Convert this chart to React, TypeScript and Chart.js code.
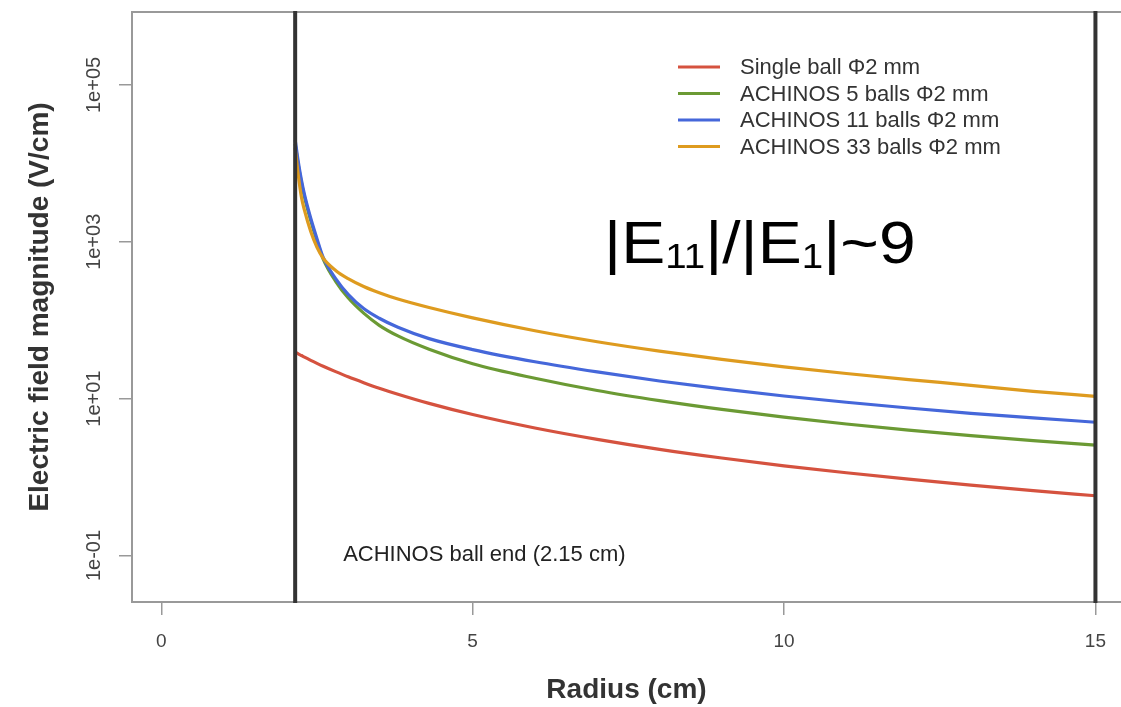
import React, { useEffect, useRef } from "react";
import { Chart, registerables } from "chart.js";

Chart.register(...registerables);

// ---- data ----
const radius = [2.15, 2.2, 2.25, 2.3, 2.4, 2.5, 2.6, 2.8, 3.0, 3.25, 3.5, 3.8, 4.3, 5, 6, 7, 8, 9, 10, 11, 12, 13, 14, 15];
const singleBall = [39.2, 37.2, 35.5, 33.8, 30.8, 28.2, 25.9, 22.1, 19.0, 16.0, 13.6, 11.4, 8.71, 6.28, 4.23, 3.03, 2.26, 1.75, 1.39, 1.135, 0.94, 0.79, 0.67, 0.578];
const achinos5 = [17780, 9550, 5754, 3715, 1862, 1023, 603, 313, 193, 123, 86.1, 63.1, 42.7, 27.9, 18.2, 12.7, 9.44, 7.29, 5.82, 4.75, 3.97, 3.38, 2.92, 2.56];
const achinos11 = [19950, 10470, 6166, 3981, 1995, 1096, 631, 339, 214, 141, 106, 81.3, 58.2, 42.2, 29.5, 21.9, 16.8, 13.3, 10.8, 9.0, 7.6, 6.5, 5.7, 5.0];
const achinos33 = [15850, 7080, 3715, 2512, 1349, 851, 617, 431, 339, 269, 224, 186, 145, 107, 73.3, 53.1, 40.3, 31.6, 25.4, 20.9, 17.5, 14.8, 12.4, 10.7];

const seriesLabels = ["Single ball Φ2 mm", "ACHINOS 5 balls Φ2 mm", "ACHINOS 11 balls Φ2 mm", "ACHINOS 33 balls Φ2 mm"];
const seriesColors = ["#d5523f", "#6b9a34", "#4567da", "#de9b1f"];

const xTicks = [0, 5, 10, 15];
const yTickValues = [1e-1, 1e1, 1e3, 1e5];
const yTickLabels = ["1e-01", "1e+01", "1e+03", "1e+05"];

const ballEnd = 2.15;
const outerWall = 15;
const annotationText = "ACHINOS ball end (2.15 cm)";
const xTitle = "Radius (cm)";
const yTitle = "Electric field magnitude (V/cm)";

const FONT = "'Liberation Sans', Arial, Helvetica, sans-serif";

export default function App() {
  const ref = useRef<HTMLCanvasElement>(null);

  useEffect(() => {
    const canvas = ref.current;
    if (!canvas) return;

    const overlay = {
      id: "overlay",
      afterDatasetsDraw(chart: any) {
        const { ctx, chartArea, scales } = chart;
        const xs = scales.x;
        ctx.save();
        // top border of the box
        ctx.strokeStyle = "#999";
        ctx.lineWidth = 2;
        ctx.beginPath();
        ctx.moveTo(chartArea.left - 1, chartArea.top);
        ctx.lineTo(chartArea.right, chartArea.top);
        ctx.stroke();
        // vertical walls
        ctx.strokeStyle = "#333";
        ctx.lineWidth = 4;
        [ballEnd, outerWall].forEach((v) => {
          const px = xs.getPixelForValue(v);
          ctx.beginPath();
          ctx.moveTo(px, chartArea.top - 1);
          ctx.lineTo(px, chartArea.bottom + 1);
          ctx.stroke();
        });
        ctx.restore();
      },
      afterDraw(chart: any) {
        const { ctx, scales } = chart;
        const xs = scales.x;
        const ys = scales.y;
        ctx.save();
        // y tick labels, rotated (R style)
        ctx.fillStyle = "#444";
        ctx.font = `20px ${FONT}`;
        ctx.textAlign = "center";
        ctx.textBaseline = "alphabetic";
        yTickValues.forEach((v, i) => {
          const py = ys.getPixelForValue(v);
          ctx.save();
          ctx.translate(100, py);
          ctx.rotate(-Math.PI / 2);
          ctx.fillText(yTickLabels[i], 0, 0);
          ctx.restore();
        });

        // legend
        const legendY = [67, 93.5, 120, 146.5];
        ctx.font = `22px ${FONT}`;
        ctx.textAlign = "left";
        ctx.textBaseline = "middle";
        seriesLabels.forEach((lab, i) => {
          ctx.strokeStyle = seriesColors[i];
          ctx.lineWidth = 3;
          ctx.beginPath();
          ctx.moveTo(678, legendY[i]);
          ctx.lineTo(720, legendY[i]);
          ctx.stroke();
          ctx.fillStyle = "#333";
          ctx.fillText(lab, 740, legendY[i] + 1);
        });

        // annotation
        ctx.fillStyle = "#222";
        ctx.font = `22px ${FONT}`;
        ctx.fillText(annotationText, xs.getPixelForValue(ballEnd) + 48, 555);

        // big ratio text |E11|/|E1|~9
        ctx.save();
        ctx.translate(604, 263);
        ctx.scale(1.1, 1);
        ctx.fillStyle = "#000";
        ctx.textBaseline = "alphabetic";
        const parts: [string, number, number][] = [
          ["|E", 60, 0],
          ["11", 35, 5],
          ["|/|E", 60, 0],
          ["1", 35, 5],
          ["|~9", 60, 0],
        ];
        let cx = 0;
        parts.forEach(([t, size, dy]) => {
          ctx.font = `${size}px ${FONT}`;
          ctx.fillText(t, cx, dy);
          cx += ctx.measureText(t).width;
        });
        ctx.restore();
        ctx.restore();
      },
    };

    const mk = (vals: number[]) => radius.map((r, i) => ({ x: r, y: vals[i] }));
    const all = [singleBall, achinos5, achinos11, achinos33];

    const chart = new Chart(canvas, {
      type: "line",
      data: {
        datasets: all.map((vals, i) => ({
          label: seriesLabels[i],
          data: mk(vals),
          borderColor: seriesColors[i],
          backgroundColor: seriesColors[i],
          borderWidth: 3.2,
          pointRadius: 0,
          fill: false,
          cubicInterpolationMode: "monotone" as const,
          order: 3 - i,
        })),
      },
      options: {
        responsive: false,
        animation: false,
        devicePixelRatio: 1,
        layout: { padding: { top: 12, right: 0, left: 0, bottom: 0 } },
        plugins: {
          legend: { display: false },
          tooltip: { enabled: false },
        },
        scales: {
          x: {
            type: "linear",
            min: -0.47,
            max: 15.41,
            afterBuildTicks: (s: any) => {
              s.ticks = xTicks.map((v) => ({ value: v }));
            },
            afterFit: (s: any) => {
              s.height = 105;
            },
            ticks: {
              font: { size: 19, family: FONT },
              color: "#444",
              padding: 15,
              maxRotation: 0,
              callback: (v: any) => String(v),
            },
            grid: { drawOnChartArea: false, drawTicks: true, tickLength: 13, color: "#999", lineWidth: 1.5 },
            border: { display: true, color: "#999", width: 2 },
            title: {
              display: true,
              text: xTitle,
              font: { size: 28, weight: "bold", family: FONT },
              color: "#333",
              padding: { top: 0, bottom: 0 },
            },
          },
          y: {
            type: "logarithmic",
            min: Math.pow(10, -1.593),
            max: Math.pow(10, 5.93),
            afterBuildTicks: (s: any) => {
              s.ticks = yTickValues.map((v) => ({ value: v }));
            },
            afterFit: (s: any) => {
              s.width = 132;
            },
            ticks: { display: false },
            grid: { drawOnChartArea: false, drawTicks: true, tickLength: 13, color: "#999", lineWidth: 1.5 },
            border: { display: true, color: "#999", width: 2 },
            title: {
              display: true,
              text: yTitle,
              font: { size: 28, weight: "bold", family: FONT },
              color: "#333",
              padding: { top: 23, bottom: 0 },
            },
          },
        },
      },
      plugins: [overlay],
    } as any);

    return () => chart.destroy();
  }, []);

  return (
    <div style={{ position: "fixed", left: 0, top: 0, width: 1121, height: 707, background: "#fff", overflow: "hidden" }}>
      <canvas ref={ref} width={1121} height={707} style={{ display: "block" }} />
    </div>
  );
}
